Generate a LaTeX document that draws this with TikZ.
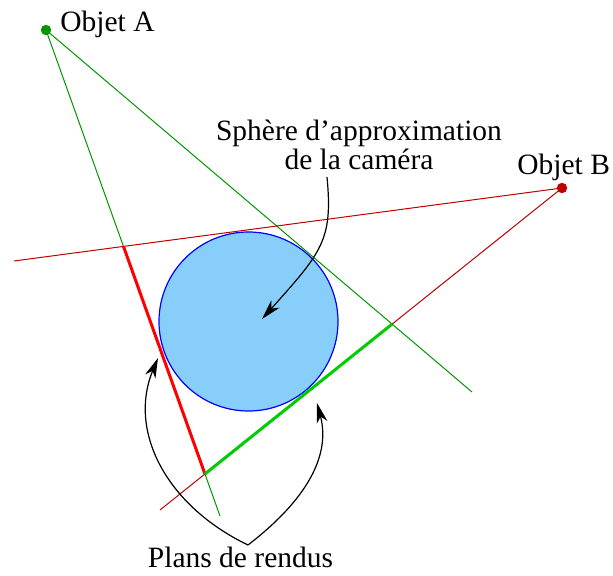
\documentclass[tikz,border=0pt]{standalone}
\usepackage{fontspec}
\setmainfont{Liberation Serif}
\usetikzlibrary{arrows.meta,intersections}
\definecolor{vertfin}{RGB}{0,150,0}
\definecolor{vertfort}{RGB}{0,205,0}
\definecolor{rougefin}{RGB}{190,0,0}
\definecolor{ciel}{RGB}{135,206,250}
\tikzset{
  texte/.style={inner sep=0pt, font=\fontsize{14.8}{11}\selectfont},
  rayonA/.style={vertfin, line width=0.5bp},
  rayonB/.style={rougefin, line width=0.5bp},
  planR/.style={red, line width=1.5bp},
  planV/.style={vertfort, line width=1.5bp},
  fleche/.style={black, line width=0.6bp, -{Stealth[length=10bp,width=5.5bp,inset=3bp]}},
}
\begin{document}
\begin{tikzpicture}[x=0.5bp, y=-0.5bp]
    \useasboundingbox (0,0) rectangle (613,576);
    % sphère
    \node[circle, draw=blue, fill=ciel, line width=0.6bp, inner sep=0pt, outer sep=0pt,
          minimum size=89.5bp] (sph) at (248.5,321.5) {};
    % objets
    \coordinate (A) at (46,30);
    \coordinate (B) at (562,188);
    \node[texte, anchor=base west] (nomA) at (60,32) {Objet A};
    \node[texte, anchor=base west] (nomB) at (517,175) {Objet B};
    % rayons tangents
    \coordinate (a1) at (220,516);
    \coordinate (a2) at (472,392);
    \coordinate (b1) at (14,261);
    \coordinate (b2) at (160,510);
    \draw[rayonA, name path=la1] (A) -- (a1);
    \draw[rayonA, name path=la2] (A) -- (a2);
    \draw[rayonB, name path=lb1] (B) -- (b1);
    \draw[rayonB, name path=lb2] (B) -- (b2);
    % plans de rendu
    \path[name intersections={of=la1 and lb1, by=p1}];
    \path[name intersections={of=la1 and lb2, by=p2}];
    \path[name intersections={of=lb2 and la2, by=p3}];
    \draw[planR] (p1) -- (p2);
    \draw[planV] (p2) -- (p3);
    \fill[vertfin] (A) circle (2.6bp);
    \fill[rougefin] (B) circle (2.6bp);
    % légendes
    \node[texte, align=center] (lsph) at (359,145) {Sphère d'approximation\\de la caméra};
    \coordinate (s0) at (327,177);
    \coordinate (s1) at (262,319);
    \draw[fleche] (s0) .. controls (333,240) and (322,252) .. (s1);
    \node[texte, anchor=base] (lplans) at (240.5,567) {Plans de rendus};
    \coordinate (pk) at (248,545);
    \coordinate (t1) at (158,358);
    \coordinate (t2) at (317,403);
    \draw[fleche] (pk) .. controls (165,505) and (128,430) .. (t1);
    \draw[fleche] (pk) .. controls (300,505) and (332,460) .. (t2);
\end{tikzpicture}
\end{document}
